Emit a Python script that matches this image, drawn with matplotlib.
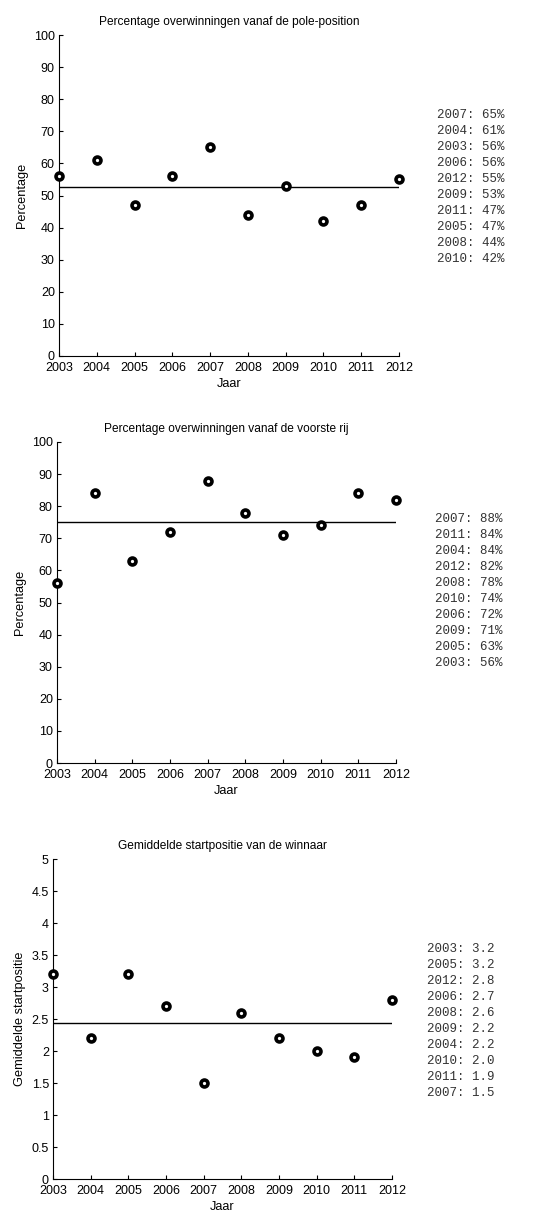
import matplotlib
matplotlib.use("Agg")
import matplotlib.pyplot as plt
import numpy as np

years = [2003, 2004, 2005, 2006, 2007, 2008, 2009, 2010, 2011, 2012]
pole_pct = [56, 61, 47, 56, 65, 44, 53, 42, 47, 55]
front_pct = [56, 84, 63, 72, 88, 78, 71, 74, 84, 82]
avg_start = [3.2, 2.2, 3.2, 2.7, 1.5, 2.6, 2.2, 2.0, 1.9, 2.8]

pole_order = [2007, 2004, 2003, 2006, 2012, 2009, 2011, 2005, 2008, 2010]
front_order = [2007, 2011, 2004, 2012, 2008, 2010, 2006, 2009, 2005, 2003]
start_order = [2003, 2005, 2012, 2006, 2008, 2009, 2004, 2010, 2011, 2007]

titles = ["Percentage overwinningen vanaf de pole-position",
          "Percentage overwinningen vanaf de voorste rij",
          "Gemiddelde startpositie van de winnaar"]
ylabels = ["Percentage", "Percentage", "Gemiddelde startpositie"]
xlabel = "Jaar"

plt.rcParams['font.family'] = ['Liberation Sans', 'DejaVu Sans']

W, H = 547, 1232
fig = plt.figure(figsize=(W / 100, H / 100), dpi=100)

# axes boxes in pixels: left, top, right, bottom
boxes = [(59, 35, 399, 356), (57, 442, 396, 763), (53, 859, 392, 1179)]
text_pos = [(437, 115), (435, 519), (427, 949)]
datas = [pole_pct, front_pct, avg_start]
orders = [pole_order, front_order, start_order]
ylims = [(0, 100), (0, 100), (0, 5)]
yticks = [np.arange(0, 101, 10), np.arange(0, 101, 10), np.arange(0, 5.01, 0.5)]
fmts = ["{}: {:.0f}%", "{}: {:.0f}%", "{}: {:.1f}"]

for i in range(3):
    l, t, r, b = boxes[i]
    ax = fig.add_axes([l / W, 1 - b / H, (r - l) / W, (b - t) / H])
    vals = datas[i]
    mean = np.mean(vals)
    ax.plot([years[0], years[-1]], [mean, mean], color='black', lw=1.0)
    ax.plot(years, vals, linestyle='none', marker='o', markersize=5.0,
            markerfacecolor='white', markeredgecolor='black',
            markeredgewidth=2.6, clip_on=False, zorder=5)
    ax.set_xlim(years[0], years[-1])
    ax.set_ylim(*ylims[i])
    ax.set_xticks(years)
    ax.set_yticks(yticks[i])
    if i == 2:
        ax.set_yticklabels(["0", "0.5", "1", "1.5", "2", "2.5", "3", "3.5", "4", "4.5", "5"])
    for s in ['top', 'right']:
        ax.spines[s].set_visible(False)
    for s in ['left', 'bottom']:
        ax.spines[s].set_linewidth(0.8)
    ax.tick_params(direction='in', length=3, width=0.8, labelsize=9)
    ax.tick_params(axis='x', pad=4.5)
    ax.tick_params(axis='y', pad=3)
    ax.set_title(titles[i], fontsize=8.6, pad=7)
    ax.set_xlabel(xlabel, fontsize=9.2, labelpad=2.5)
    ax.set_ylabel(ylabels[i], fontsize=9.2, labelpad=4)

    tx, ty = text_pos[i]
    vd = dict(zip(years, vals))
    for k, yr in enumerate(orders[i]):
        fig.text(tx / W, 1 - (ty + 16 * k) / H, fmts[i].format(yr, vd[yr]),
                 family='Liberation Mono', fontsize=9, color='#333333',
                 va='center', ha='left')

fig.savefig("out.png", dpi=100)
